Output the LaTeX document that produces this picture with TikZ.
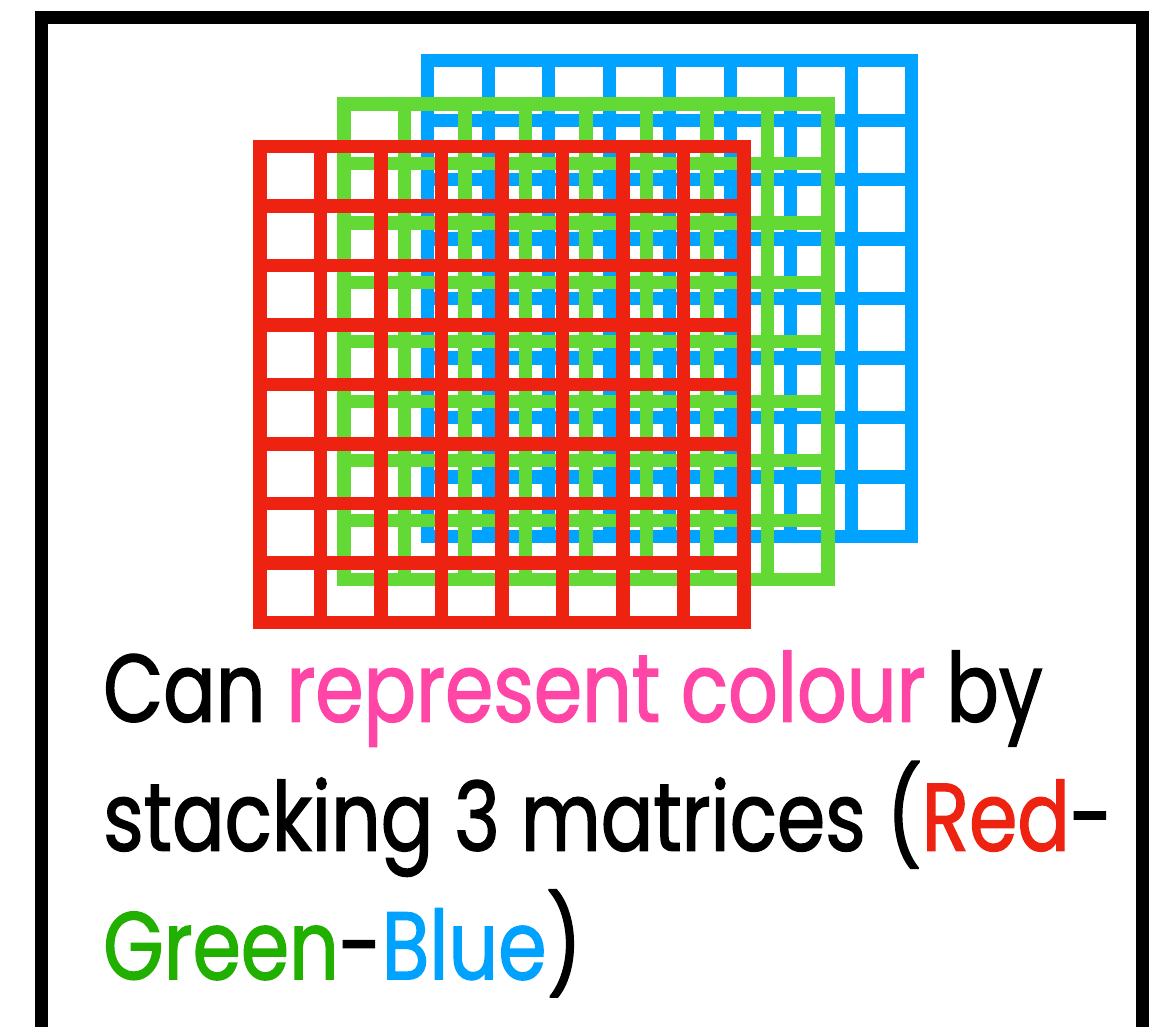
\documentclass[tikz,border=0pt]{standalone}
\usepackage{fontspec}
\setmainfont{Poppins}[FakeStretch=0.81, FakeBold=1.4]
\definecolor{gridred}{HTML}{EE2211}
\definecolor{gridgreen}{HTML}{62D935}
\definecolor{gridblue}{HTML}{00A3FF}
\definecolor{txtpink}{HTML}{FF45A6}
\definecolor{txtred}{HTML}{EE2211}
\definecolor{txtgreen}{HTML}{22B000}
\definecolor{txtblue}{HTML}{00A2FF}
\newcommand\matgrid[3]{%
  \foreach \i in {0,...,8} {
    \draw[gridline,#1] (#2+\i*60.5, #3) -- (#2+\i*60.5, #3+475.6);
    \draw[gridline,#1] (#2, #3+\i*59.45) -- (#2+484, #3+\i*59.45);
  }}
\begin{document}
\begin{tikzpicture}[x=1pt,y=-1pt,
  gridline/.style={line width=13.3pt, line cap=rect},
  frameline/.style={line width=13pt, line join=miter},
  textline/.style={anchor=base west, inner sep=0pt, font=\fontsize{96}{110}\selectfont}]
\useasboundingbox (0,0) rectangle (1162,1027);
\fill[white] (0,0) rectangle (1162,1027);
\draw[frameline] (41.5,1045) -- (41.5,17.5) -- (1142.5,17.5) -- (1142.5,1045);
\matgrid{gridblue}{427.7}{60.8}
\matgrid{gridgreen}{344}{104}
\matgrid{gridred}{260}{146.7}
\node[textline] (l1) at (103,721.7) {Can \textcolor{txtpink}{represent colour} by};
\node[textline] (l2) at (103,850.7) {stacking 3 matrices (\textcolor{txtred}{Red}-};
\node[textline] (l3) at (103,979.3) {\textcolor{txtgreen}{Green}-\textcolor{txtblue}{Blue})};
\end{tikzpicture}
\end{document}
